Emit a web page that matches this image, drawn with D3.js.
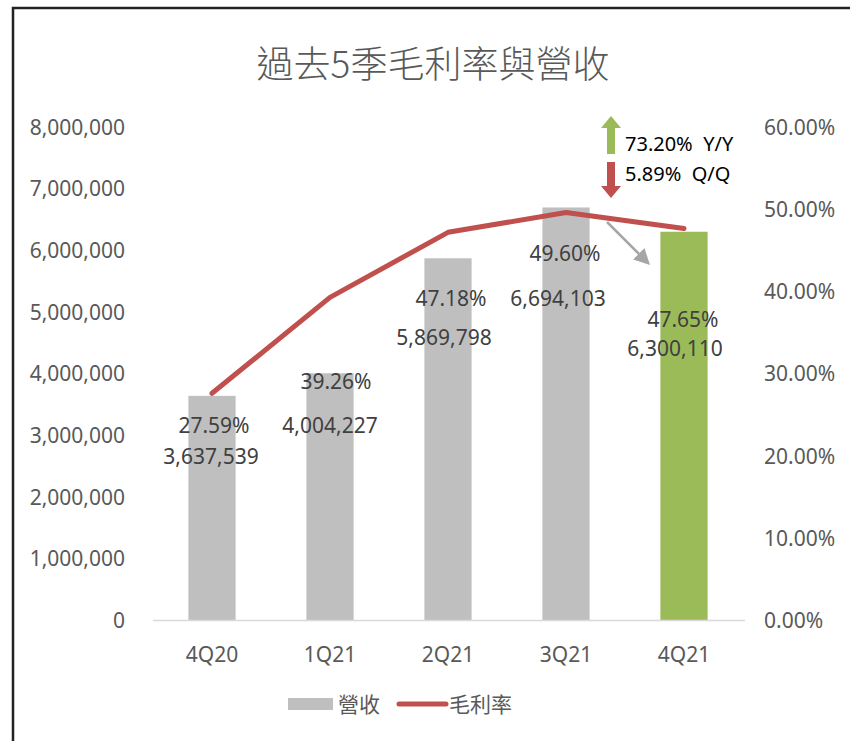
<!DOCTYPE html>
<html>
<head>
<meta charset="utf-8">
<script src="https://cdn.jsdelivr.net/npm/d3@7"></script>
<style>
  body { margin: 0; background: #fff; }
  svg text { font-family: "Noto Sans", "Noto Sans CJK TC", sans-serif; }
</style>
</head>
<body>
<svg id="chart" width="850" height="741"></svg>
<script>
// chart data
const quarters = ["4Q20", "1Q21", "2Q21", "3Q21", "4Q21"];
const revenue = [3637539, 4004227, 5869798, 6694103, 6300110];
const grossMargin = [27.59, 39.26, 47.18, 49.60, 47.65];
const revenueTicks = [0, 1000000, 2000000, 3000000, 4000000, 5000000, 6000000, 7000000, 8000000];
const marginTicks = [0, 10, 20, 30, 40, 50, 60];
const yoyText = "73.20%  Y/Y";
const qoqText = "5.89%  Q/Q";

// hand placed label offsets (px, from category centre / bar top), like the excel file
const labelLayout = [
    { pdx: 2, pdy: 30, vdx: -1, vdy: 61 },
    { pdx: 6, pdy: 8, vdx: 0, vdy: 52 },
    { pdx: 3, pdy: 40, vdx: -4, vdy: 79 },
    { pdx: -1, pdy: 46, vdx: -8, vdy: 91 },
    { pdx: -1, pdy: 88, vdx: -9, vdy: 117 }
];

const svg = d3.select("#chart");

// frame
svg.append("path")
    .attr("d", "M13,741 L13,8 L850,8")
    .attr("fill", "none")
    .attr("stroke", "#222")
    .attr("stroke-width", 2.5);

const x = d3.scaleBand().domain(quarters).range([153, 743]).paddingInner(0.6).paddingOuter(0.3);
const yRev = d3.scaleLinear().domain([0, 8000000]).range([620, 127]);
const yPct = d3.scaleLinear().domain([0, 60]).range([620, 127]);

// title
svg.append("text")
    .attr("x", 433).attr("y", 78)
    .attr("text-anchor", "middle")
    .attr("fill", "#595959")
    .style("font-size", "37px")
    .style("font-weight", 300)
    .style("font-family", "'Noto Sans CJK TC', sans-serif")
    .text("過去5季毛利率與營收");

// left axis
const leftAxis = svg.append("g")
    .attr("transform", "translate(125,0)")
    .call(d3.axisLeft(yRev).tickValues(revenueTicks).tickSize(0).tickPadding(0).tickFormat(d3.format(",")));
leftAxis.select(".domain").remove();
leftAxis.selectAll("text").attr("fill", "#595959").style("font-size", "21px").attr("dy", "0.35em");

// right axis
const rightAxis = svg.append("g")
    .attr("transform", "translate(764,0)")
    .call(d3.axisRight(yPct).tickValues(marginTicks).tickSize(0).tickPadding(0).tickFormat(d => d.toFixed(2) + "%"));
rightAxis.select(".domain").remove();
rightAxis.selectAll("text").attr("fill", "#595959").style("font-size", "21px").attr("dy", "0.35em");

// bars
svg.selectAll("rect.bar")
    .data(revenue)
    .enter().append("rect")
    .attr("class", "bar")
    .attr("x", (d, i) => x(quarters[i]))
    .attr("y", d => yRev(d))
    .attr("width", x.bandwidth())
    .attr("height", d => yRev(0) - yRev(d))
    .attr("fill", (d, i) => i === revenue.length - 1 ? "#9BBB59" : "#BFBFBF");

// category axis
const bottomAxis = svg.append("g")
    .attr("transform", "translate(0,620)")
    .call(d3.axisBottom(x).tickSize(0).tickPadding(27));
bottomAxis.select(".domain").remove();
svg.append("line")
    .attr("x1", 153).attr("x2", 745).attr("y1", 620.5).attr("y2", 620.5)
    .attr("stroke", "#D9D9D9").attr("stroke-width", 1.5);
bottomAxis.selectAll("text").attr("fill", "#595959").style("font-size", "21px");

// margin line
const line = d3.line()
    .x((d, i) => x(quarters[i]) + x.bandwidth() / 2)
    .y(d => yPct(d));
svg.append("path")
    .datum(grossMargin)
    .attr("d", line)
    .attr("fill", "none")
    .attr("stroke", "#C0504D")
    .attr("stroke-width", 5)
    .attr("stroke-linecap", "round")
    .attr("stroke-linejoin", "round");

// data labels
quarters.forEach((q, i) => {
    const cx = x(q) + x.bandwidth() / 2;
    const top = yRev(revenue[i]);
    const l = labelLayout[i];
    svg.append("text")
        .attr("x", cx + l.pdx).attr("y", top + l.pdy).attr("dy", "0.35em")
        .attr("text-anchor", "middle").attr("fill", "#404040").style("font-size", "21px")
        .text(grossMargin[i].toFixed(2) + "%");
    svg.append("text")
        .attr("x", cx + l.vdx).attr("y", top + l.vdy).attr("dy", "0.35em")
        .attr("text-anchor", "middle").attr("fill", "#404040").style("font-size", "21px")
        .text(d3.format(",")(revenue[i]));
});

// growth callouts
const ax = 611;
svg.append("path")
    .attr("d", `M${ax},116 L${ax + 10},128 L${ax + 4},128 L${ax + 4},154 L${ax - 4},154 L${ax - 4},128 L${ax - 10},128 Z`)
    .attr("fill", "#9BBB59");
svg.append("path")
    .attr("d", `M${ax},198 L${ax + 10},186 L${ax + 4},186 L${ax + 4},162 L${ax - 4},162 L${ax - 4},186 L${ax - 10},186 Z`)
    .attr("fill", "#C0504D");
svg.append("text").attr("x", 625).attr("y", 151).attr("fill", "#000").style("font-size", "20px")
    .style("white-space", "pre").text(yoyText);
svg.append("text").attr("x", 625).attr("y", 181).attr("fill", "#000").style("font-size", "20px")
    .style("white-space", "pre").text(qoqText);

// grey pointer arrow
svg.append("defs").append("marker")
    .attr("id", "head").attr("viewBox", "0 0 10 10")
    .attr("refX", 2).attr("refY", 5)
    .attr("markerWidth", 16).attr("markerHeight", 16)
    .attr("markerUnits", "userSpaceOnUse")
    .attr("orient", "auto")
    .append("path").attr("d", "M0,0 L10,5 L0,10 Z").attr("fill", "#A6A6A6");
svg.append("line")
    .attr("x1", 607).attr("y1", 222).attr("x2", 641).attr("y2", 256)
    .attr("stroke", "#A6A6A6").attr("stroke-width", 2.5)
    .attr("marker-end", "url(#head)");

// legend
svg.append("rect").attr("x", 288).attr("y", 698).attr("width", 45).attr("height", 12).attr("fill", "#BFBFBF");
svg.append("text").attr("x", 338).attr("y", 712).attr("fill", "#595959").style("font-size", "21px").text("營收");
svg.append("line").attr("x1", 399).attr("x2", 446).attr("y1", 704).attr("y2", 704)
    .attr("stroke", "#C0504D").attr("stroke-width", 5).attr("stroke-linecap", "round");
svg.append("text").attr("x", 449).attr("y", 712).attr("fill", "#595959").style("font-size", "21px").text("毛利率");
</script>
</body>
</html>
